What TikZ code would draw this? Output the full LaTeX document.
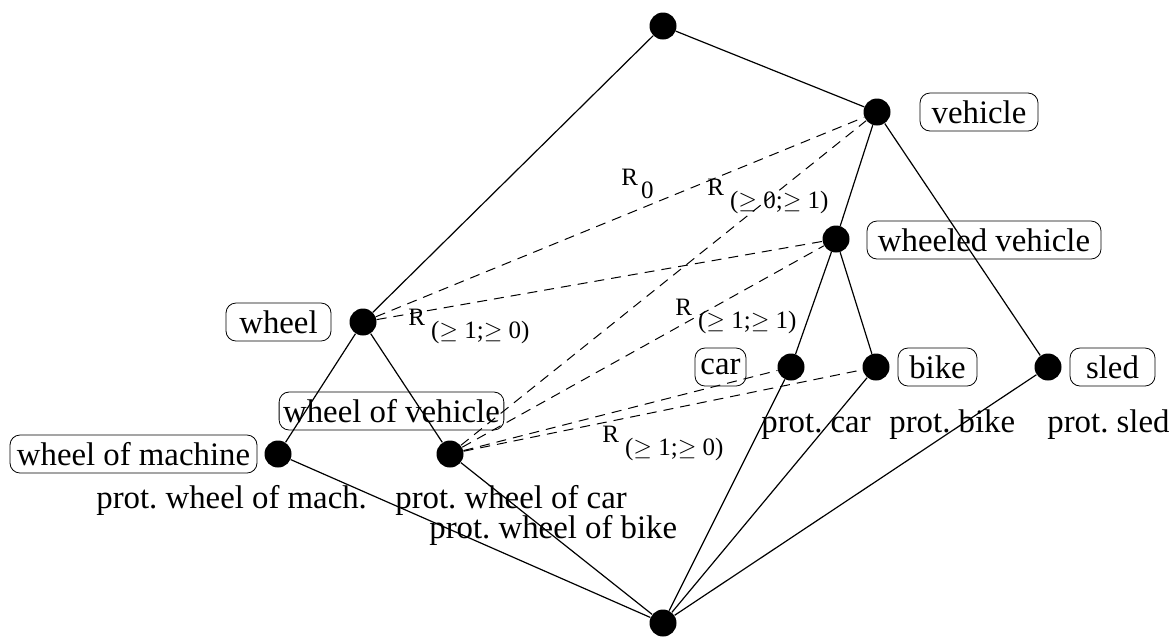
\documentclass[tikz,border=0pt]{standalone}
\usepackage{fontspec}
\setmainfont{Liberation Serif}
\usetikzlibrary{positioning}

\newcommand{\relsub}[1]{R\hspace{3pt}\raisebox{-6.5pt}{#1}}

\begin{document}
\frenchspacing
\begin{tikzpicture}[
    x=0.5pt, y=-0.5pt,
    dot/.style={circle, fill=black, inner sep=0pt, minimum size=13.5pt},
    tag/.style={draw, rounded corners=5pt, inner xsep=2pt, inner ysep=0pt, minimum height=19pt, font=\fontsize{16.4}{19}\selectfont},
    proto/.style={anchor=base west, inner sep=0pt, font=\fontsize{16.4}{19}\selectfont},
    rel/.style={anchor=base west, inner sep=0pt, font=\fontsize{12.5}{14}\selectfont},
    edge/.style={line width=0.6pt},
    link/.style={line width=0.5pt, dash pattern=on 5pt off 3.5pt}
]
\useasboundingbox (0,0) rectangle (1171,639);

% lattice points
\node[dot] (top) at (663,26) {};
\node[dot] (veh) at (877,112) {};
\node[dot] (wveh) at (836,239) {};
\node[dot] (whl) at (363,322) {};
\node[dot] (car) at (791,367) {};
\node[dot] (bike) at (876,367) {};
\node[dot] (sled) at (1048,367) {};
\node[dot] (wmach) at (278,454) {};
\node[dot] (wvehc) at (450,454) {};
\node[dot] (bot) at (663,623) {};

% concept names
\node[tag, minimum width=59pt] (vehlbl) at (979,112) {vehicle};
\node[tag, minimum width=117pt] (wvehlbl) at (984,240) {wheeled vehicle};
\node[tag, minimum width=52.5pt] (whllbl) at (278.5,322) {wheel};
\node[tag, minimum width=25.5pt] (carlbl) at (720.5,367) {car};
\node[tag, minimum width=39.5pt] (bikelbl) at (937.5,367) {bike};
\node[tag, minimum width=42.5pt] (sledlbl) at (1112.5,367) {sled};
\node[tag, minimum width=111.5pt] (wvehclbl) at (391.5,411) {wheel of vehicle};
\node[tag, minimum width=123.5pt] (wmachlbl) at (133.5,454) {wheel of machine};

% prototypes
\node[proto] (pcar) at (761,432) {prot. car};
\node[proto] (pbike) at (889,432) {prot. bike};
\node[proto] (psled) at (1047,432) {prot. sled};
\node[proto] (pwmach) at (96,508) {prot. wheel of mach.};
\node[proto] (pwcar) at (395,508) {prot. wheel of car};
\node[proto] (pwbike) at (429,538) {prot. wheel of bike};

% order
\draw[edge] (top) -- (veh);
\draw[edge] (top) -- (whl);
\draw[edge] (veh) -- (wveh);
\draw[edge] (veh) -- (sled);
\draw[edge] (wveh) -- (car);
\draw[edge] (wveh) -- (bike);
\draw[edge] (whl) -- (wmach);
\draw[edge] (whl) -- (wvehc);
\draw[edge] (wmach) -- (bot);
\draw[edge] (wvehc) -- (bot);
\draw[edge] (car) -- (bot);
\draw[edge] (bike) -- (bot);
\draw[edge] (sled) -- (bot);

% relations
\draw[link] (whl) -- (veh);
\draw[link] (whl) -- (wveh);
\draw[link] (wvehc) -- (veh);
\draw[link] (wvehc) -- (wveh);
\draw[link] (wvehc) -- (car);
\draw[link] (wvehc) -- (bike);

\node[rel] (r0) at (621,185) {R\hspace{1.5pt}\raisebox{-6.5pt}{0}};
\node[rel] (r01) at (707,195) {\relsub{($\geq$ 0;$\geq$ 1)}};
\node[rel] (r10a) at (408,325) {\relsub{($\geq$ 1;$\geq$ 0)}};
\node[rel] (r11) at (675,315) {\relsub{($\geq$ 1;$\geq$ 1)}};
\node[rel] (r10b) at (602,442) {\relsub{($\geq$ 1;$\geq$ 0)}};
\end{tikzpicture}
\end{document}
